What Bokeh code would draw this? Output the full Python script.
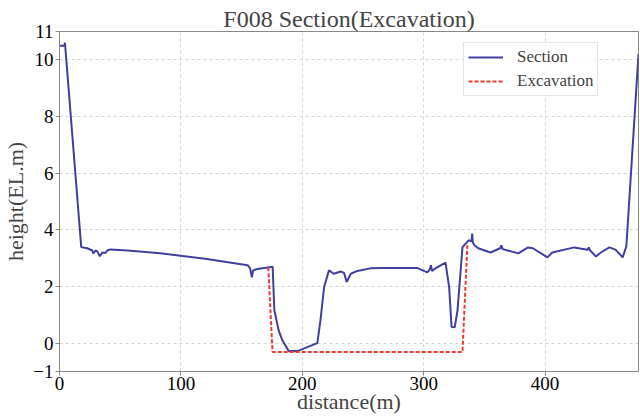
from bokeh.plotting import figure
from bokeh.embed import file_html
from bokeh.resources import INLINE
from bokeh.models import Range1d, FixedTicker, Legend, LegendItem

section_x = [0, 4, 4.5, 17.9, 22.8, 27.0, 27.8, 29.7, 31.1, 33.2, 35.2, 37.9, 39.3, 42,
             56, 83, 120, 155, 157, 158.5, 159.5, 163, 170, 175.6, 177, 180.5, 183.6,
             188.8, 196, 212.4, 215, 218, 222, 226, 231.7, 234.4, 236.6, 240, 245.4,
             256, 265, 295, 303, 305, 306, 307, 310, 318, 321, 323, 325.6, 327.9, 332,
             337, 339.5, 340, 340.5, 342, 345, 355, 363, 364, 365, 378, 386, 390, 402,
             406, 424, 435, 436, 437, 442, 446, 453, 458, 464, 467, 477]
section_y = [10.5, 10.5, 10.6, 3.39, 3.35, 3.27, 3.17, 3.27, 3.24, 3.07, 3.2, 3.18, 3.27, 3.31,
             3.27, 3.17, 2.98, 2.75, 2.65, 2.32, 2.57, 2.62, 2.66, 2.7, 1.16, 0.46, 0.1,
             -0.28, -0.28, 0.0, 0.81, 1.98, 2.57, 2.45, 2.53, 2.48, 2.16, 2.45, 2.55,
             2.64, 2.65, 2.65, 2.5, 2.6, 2.75, 2.55, 2.65, 2.84, 1.98, 0.57, 0.56, 1.16, 3.39,
             3.63, 3.6, 3.87, 3.55, 3.45, 3.35, 3.2, 3.35, 3.45, 3.32, 3.17, 3.38, 3.35, 3.03,
             3.2, 3.38, 3.3, 3.38, 3.28, 3.06, 3.2, 3.38, 3.3, 3.03, 3.42, 10.2]

excav_x = [172, 175.5, 332, 336]
excav_y = [2.68, -0.31, -0.31, 3.45]

x_ticks = [0, 100, 200, 300, 400]
y_ticks = [-1, 0, 2, 4, 6, 8, 10, 11]

FONT = "Liberation Serif"

p = figure(width=640, height=419, output_backend="svg", toolbar_location=None,
           x_range=Range1d(0, 477), y_range=Range1d(-1, 11),
           title="F008 Section(Excavation)",
           x_axis_label="distance(m)", y_axis_label="height(EL.m)",
           min_border_left=59, min_border_right=2, min_border_top=31, min_border_bottom=48)

p.title.text_font = FONT
p.title.text_font_size = "24px"
p.title.text_font_style = "normal"
p.title.align = "center"
p.title.standoff = 0

for ax in (p.xaxis[0], p.yaxis[0]):
    ax.axis_label_text_font = FONT
    ax.axis_label_text_font_size = "22px"
    ax.axis_label_text_font_style = "normal"
    ax.major_label_text_font = FONT
    ax.major_label_text_font_size = "19px"
    ax.major_label_text_color = "black"
    ax.axis_line_color = "#888888"
    ax.major_tick_line_color = "#888888"
    ax.major_tick_out = 4
    ax.major_tick_in = 0
    ax.minor_tick_line_color = None
    ax.major_label_standoff = 2
    ax.axis_label_standoff = 2

p.xaxis.axis_label_standoff = -4
p.xaxis.major_label_standoff = 1

p.xaxis.ticker = FixedTicker(ticks=x_ticks)
p.yaxis.ticker = FixedTicker(ticks=y_ticks)
p.yaxis.major_label_overrides = {-1: "\u22121"}

p.xgrid.ticker = FixedTicker(ticks=x_ticks)
p.ygrid.ticker = FixedTicker(ticks=y_ticks)
p.grid.grid_line_color = "#d3d3d3"
p.grid.grid_line_dash = "3 3"
p.grid.grid_line_width = 1

p.outline_line_color = "#888888"
p.outline_line_width = 1

r1 = p.line(section_x, section_y, line_color="#3f3f9f", line_width=2)
r2 = p.line(excav_x, excav_y, line_color="#ec3b2a", line_width=2, line_dash="4 2")

legend = Legend(items=[LegendItem(label="Section", renderers=[r1]),
                       LegendItem(label="Excavation", renderers=[r2])],
                location=(404, 275))
legend.label_text_font = FONT
legend.label_text_font_size = "17px"
legend.glyph_width = 35
legend.glyph_height = 20
legend.label_height = 20
legend.label_standoff = 14
legend.padding = 4
legend.spacing = 4
legend.border_line_color = "#cccccc"
legend.background_fill_alpha = 0.85
p.add_layout(legend)

open("out.html", "w").write(file_html(p, INLINE))
